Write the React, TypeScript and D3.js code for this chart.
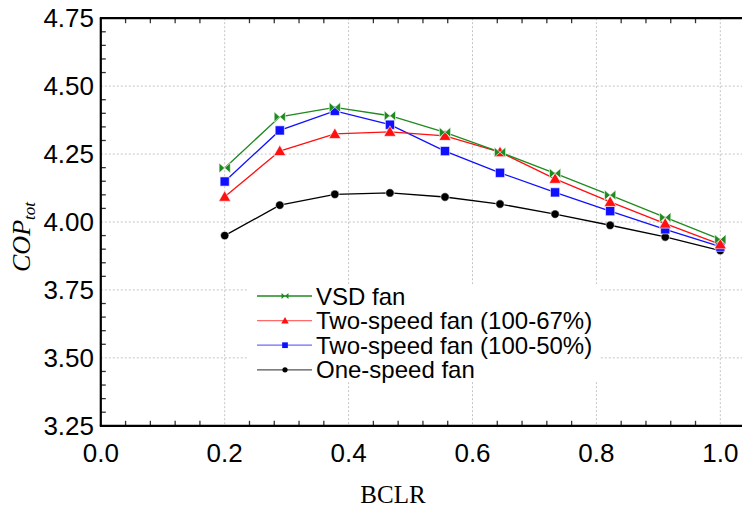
import React from "react";
import * as d3 from "d3";

const bclr = [0.2, 0.2889, 0.3778, 0.4667, 0.5556, 0.6444, 0.7333, 0.8222, 0.9111, 1.0];
const vsdFan = [4.199, 4.387, 4.422, 4.391, 4.33, 4.257, 4.179, 4.099, 4.017, 3.936];
const twoSpeed67 = [4.093, 4.261, 4.324, 4.332, 4.317, 4.257, 4.159, 4.074, 3.994, 3.918];
const twoSpeed50 = [4.149, 4.337, 4.409, 4.358, 4.261, 4.181, 4.109, 4.04, 3.973, 3.909];
const oneSpeed = [3.95, 4.062, 4.102, 4.107, 4.092, 4.066, 4.029, 3.988, 3.945, 3.895];

const xTicks = [0.0, 0.2, 0.4, 0.6, 0.8, 1.0];
const yTicks = [3.25, 3.5, 3.75, 4.0, 4.25, 4.5, 4.75];
const seriesNames = ["VSD fan", "Two-speed fan (100-67%)", "Two-speed fan (100-50%)", "One-speed fan"];

type Kind = "bowtie" | "triangle" | "square" | "circle";

function markerPath(kind: Kind, s: number): string {
  if (kind === "bowtie") {
    const w = 5.6 * s, h = 5.0 * s;
    return `M${-w},${-h}L0,0L${-w},${h}ZM${w},${-h}L0,0L${w},${h}Z`;
  }
  if (kind === "triangle") {
    const a = 6 * s;
    return `M0,${-a}L${a},${a * 0.75}L${-a},${a * 0.75}Z`;
  }
  if (kind === "square") {
    const a = 4.6 * s;
    return `M${-a},${-a}H${a}V${a}H${-a}Z`;
  }
  const r = 4.2 * s;
  return `M${r},0A${r},${r} 0 1,1 ${-r},0A${r},${r} 0 1,1 ${r},0Z`;
}

export default function App() {
  const W = 742, H = 512;
  const x = d3.scaleLinear().domain([0, 1.05]).range([100.8, 100.8 + 619.5 * 1.05]);
  const y = d3.scaleLinear().domain([3.25, 4.75]).range([425.8, 18.2]);

  const series = [
    { name: seriesNames[3], vals: oneSpeed, color: "#000000", legColor: "#555555", kind: "circle" as Kind },
    { name: seriesNames[2], vals: twoSpeed50, color: "#1010ff", legColor: "#6a6aff", kind: "square" as Kind },
    { name: seriesNames[1], vals: twoSpeed67, color: "#ff1010", legColor: "#ff6a6a", kind: "triangle" as Kind },
    { name: seriesNames[0], vals: vsdFan, color: "#1f8a1f", legColor: "#1f8a1f", kind: "bowtie" as Kind },
  ];
  const legendOrder = [3, 2, 1, 0];

  const line = d3
    .line<number>()
    .x((_, i) => x(bclr[i]))
    .y((d) => y(d));

  const minorX = d3.range(0, 1.05, 0.04).filter((v) => Math.abs(v / 0.2 - Math.round(v / 0.2)) > 1e-6);
  const minorY = d3.range(3.25, 4.75, 0.05).filter((v) => Math.abs((v - 3.25) / 0.25 - Math.round((v - 3.25) / 0.25)) > 1e-6);

  const left = x(0), right = W + 10, top = y(4.75), bottom = y(3.25);
  const font = "'Liberation Sans', Arial, sans-serif";
  const serif = "'Liberation Serif', 'Times New Roman', serif";

  return (
    <svg width={W} height={H} style={{ position: "absolute", left: 0, top: 0, background: "#fff" }}>
      <rect x={0} y={0} width={W} height={H} fill="#fff" />
      {/* grid */}
      {xTicks.filter((v) => v > 0).map((v) => (
        <line key={"gx" + v} x1={x(v)} x2={x(v)} y1={top} y2={bottom} stroke="#c4c4c4" strokeWidth={1} strokeDasharray="2,2" />
      ))}
      {yTicks.filter((v) => v > 3.25 && v < 4.75).map((v) => (
        <line key={"gy" + v} x1={left} x2={right} y1={y(v)} y2={y(v)} stroke="#c4c4c4" strokeWidth={1} strokeDasharray="2,2" />
      ))}
      {/* minor ticks */}
      {minorX.map((v) => (
        <g key={"mx" + v}>
          <line x1={x(v)} x2={x(v)} y1={bottom} y2={bottom - 5} stroke="#333" strokeWidth={1.3} />
          <line x1={x(v)} x2={x(v)} y1={top} y2={top + 5} stroke="#333" strokeWidth={1.3} />
        </g>
      ))}
      {minorY.map((v) => (
        <line key={"my" + v} x1={left} x2={left + 5} y1={y(v)} y2={y(v)} stroke="#333" strokeWidth={1.3} />
      ))}
      {/* frame */}
      <line x1={left} x2={left} y1={top} y2={bottom} stroke="#000" strokeWidth={2.2} />
      <line x1={left - 1} x2={right} y1={bottom} y2={bottom} stroke="#000" strokeWidth={2.2} />
      <line x1={left - 1} x2={right} y1={top} y2={top} stroke="#000" strokeWidth={2.2} />
      {/* tick labels */}
      {yTicks.map((v) => (
        <text key={"ty" + v} x={94} y={y(v)} textAnchor="end" dominantBaseline="central" fontFamily={font} fontSize={26} fill="#000">
          {v.toFixed(2)}
        </text>
      ))}
      {xTicks.map((v) => (
        <text key={"tx" + v} x={x(v)} y={462} textAnchor="middle" fontFamily={font} fontSize={26} fill="#000">
          {v.toFixed(1)}
        </text>
      ))}
      {/* axis titles */}
      <text x={393} y={503} textAnchor="middle" fontFamily={serif} fontSize={25} fill="#000">BCLR</text>
      <text transform="translate(30,237) rotate(-90)" textAnchor="middle" fontFamily={serif} fontStyle="italic" fontSize={26} fill="#000">
        <tspan fill="#000">COP</tspan>
        <tspan fill="#000" fontSize={17} dy={5}>tot</tspan>
      </text>
      {/* series */}
      {series.map((s) => (
        <g key={s.name}>
          <path d={line(s.vals) || ""} fill="none" stroke={s.color} strokeWidth={1.3} />
          {s.vals.map((v, i) => (
            <path key={i} d={markerPath(s.kind, 1)} transform={`translate(${x(bclr[i])},${y(v)})`} fill={s.color} stroke="#fff" strokeWidth={0.6} />
          ))}
        </g>
      ))}
      {/* legend */}
      <rect x={248} y={284} width={352} height={98} fill="#fff" />
      {legendOrder.map((si, row) => {
        const s = series[si];
        const ly = 296 + row * 24.6;
        return (
          <g key={"lg" + row}>
            <line x1={257} x2={312} y1={ly} y2={ly} stroke={s.legColor} strokeWidth={1.3} />
            <path d={markerPath(s.kind, 0.62)} transform={`translate(285,${ly})`} fill={s.kind === "circle" ? "#000" : s.color} />
            <text x={316} y={ly} dominantBaseline="central" fontFamily={font} fontSize={24} fill="#000">{s.name}</text>
          </g>
        );
      })}
    </svg>
  );
}
